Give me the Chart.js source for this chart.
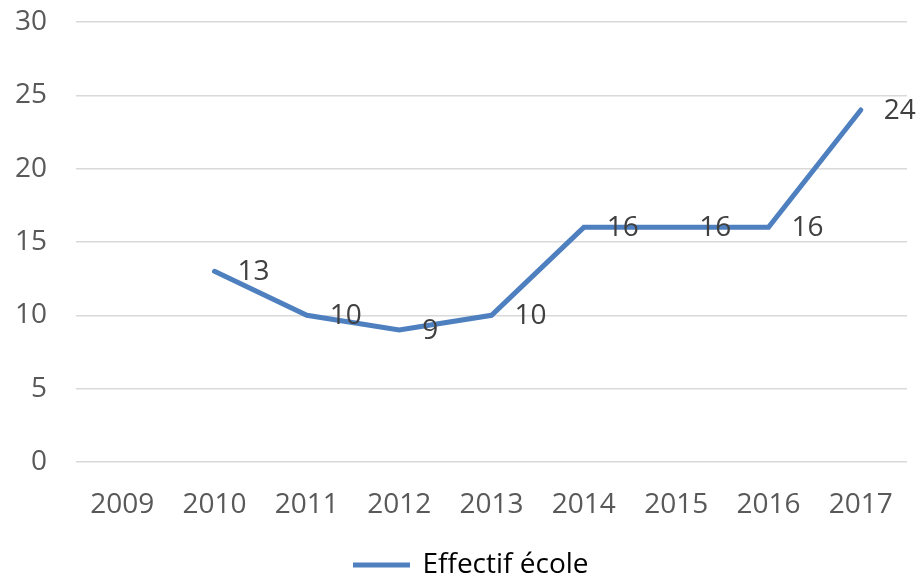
<!DOCTYPE html>
<html>
<head>
<meta charset="utf-8">
<script src="https://cdn.jsdelivr.net/npm/chart.js@4"></script>
<style>
  body { margin: 0; background: #fff; }
  #wrap { width: 922px; height: 577px; }
</style>
</head>
<body>
<div id="wrap"><canvas id="chart"></canvas></div>
<script>
// Data
const years = ["2009", "2010", "2011", "2012", "2013", "2014", "2015", "2016", "2017"];
const effectif = [null, 13, 10, 9, 10, 16, 16, 16, 24];
const yTicks = [0, 5, 10, 15, 20, 25, 30];

const blue = "#4E7FBF";
const font = "'Open Sans', sans-serif";

// Value labels, drawn to the right of each point
const pointLabels = {
  id: "pointLabels",
  afterDatasetsDraw(chart) {
    const ctx = chart.ctx;
    const meta = chart.getDatasetMeta(0);
    ctx.save();
    ctx.font = "28px " + font;
    ctx.fillStyle = "#404040";
    ctx.textAlign = "left";
    ctx.textBaseline = "middle";
    meta.data.forEach((pt, i) => {
      const v = effectif[i];
      if (v === null) return;
      ctx.fillText(String(v), pt.x + 23, pt.y + 1);
    });
    ctx.restore();
  }
};

// Nudge the legend a bit to the right, as in the original
const legendShift = {
  id: "legendShift",
  afterLayout(chart) {
    chart.legend.left += 18;
    chart.legend.right += 18;
  }
};

new Chart(document.getElementById("chart"), {
  type: "line",
  data: {
    labels: years,
    datasets: [{
      label: "Effectif école",
      data: effectif,
      borderColor: blue,
      backgroundColor: blue,
      borderWidth: 5,
      tension: 0,
      pointRadius: 0,
      borderCapStyle: "round",
      borderJoinStyle: "miter"
    }]
  },
  options: {
    responsive: true,
    maintainAspectRatio: false,
    animation: false,
    layout: { padding: { top: 22, right: 15, left: 0, bottom: -12 } },
    scales: {
      x: {
        offset: true,
        afterFit: axis => { axis.height = 89; },
        grid: { display: false },
        border: { display: false },
        ticks: { color: "#595959", font: { family: font, size: 28 }, padding: 18, maxRotation: 0 }
      },
      y: {
        min: 0,
        max: 30,
        afterBuildTicks: axis => { axis.ticks = yTicks.map(v => ({ value: v })); },
        afterFit: axis => { axis.width = 76; },
        grid: { color: "#d9d9d9", lineWidth: 1.5, drawTicks: true, tickLength: 28, tickColor: "rgba(0,0,0,0)" },
        border: { display: false },
        ticks: { color: "#595959", font: { family: font, size: 28 }, padding: 1 }
      }
    },
    plugins: {
      legend: {
        position: "bottom",
        labels: {
          color: "#595959",
          font: { family: font, size: 28, lineHeight: 1 },
          boxWidth: 54,
          boxHeight: 2,
          padding: 0,
          generateLabels: chart => [{
            text: "Effectif école",
            fillStyle: blue,
            strokeStyle: blue,
            lineWidth: 3,
            datasetIndex: 0
          }]
        }
      },
      tooltip: { enabled: false }
    }
  },
  plugins: [pointLabels, legendShift]
});
</script>
</body>
</html>
